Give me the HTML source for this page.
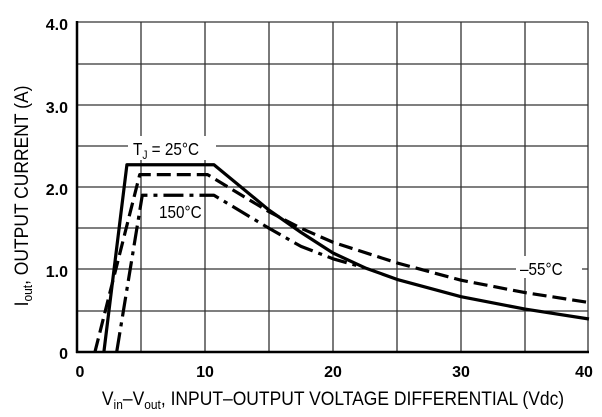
<!DOCTYPE html>
<html><head><style>
body{margin:0;background:#fff;}
svg{display:block;font-family:"Liberation Sans",sans-serif;font-weight:bold;}
</style></head><body>
<svg width="602" height="417" viewBox="0 0 602 417">
<rect width="602" height="417" fill="#fff"/>
<g stroke="#333" stroke-width="1.3">
<line x1="141" y1="22" x2="141" y2="352"/><line x1="205" y1="22" x2="205" y2="352"/>
<line x1="269" y1="22" x2="269" y2="352"/><line x1="333" y1="22" x2="333" y2="352"/>
<line x1="397" y1="22" x2="397" y2="352"/><line x1="461" y1="22" x2="461" y2="352"/>
<line x1="525" y1="22" x2="525" y2="352"/><line x1="588" y1="22" x2="588" y2="352"/>
<line x1="77" y1="22" x2="588" y2="22"/><line x1="77" y1="64" x2="588" y2="64"/>
<line x1="77" y1="105" x2="588" y2="105"/><line x1="77" y1="146" x2="588" y2="146"/>
<line x1="77" y1="187" x2="588" y2="187"/><line x1="77" y1="228" x2="588" y2="228"/>
<line x1="77" y1="269" x2="588" y2="269"/><line x1="77" y1="311" x2="588" y2="311"/>
</g>
<rect x="128" y="136" width="88" height="24" fill="#fff"/>
<rect x="516" y="256" width="66" height="22" fill="#fff"/>
<g stroke="#000" stroke-width="2.5"><line x1="77" y1="21" x2="77" y2="353"/><line x1="76" y1="352" x2="589" y2="352"/></g>
<g transform="translate(77,352) scale(12.8,-82.5)" fill="none" stroke="#000" stroke-width="3.2" stroke-linejoin="round">
<polyline vector-effect="non-scaling-stroke" points="2.1,0 3.9,2.27 10.7,2.27 15,1.72 17.5,1.45 20,1.2 22.5,1.02 25,0.88 30,0.67 35,0.52 40,0.4"/>
<polyline vector-effect="non-scaling-stroke" stroke-dasharray="14,6" points="1.4,0 4.9,2.15 10.2,2.15 15,1.7 17.5,1.5 20,1.33 25,1.08 30,0.87 35,0.72 40,0.6"/>
<polyline vector-effect="non-scaling-stroke" stroke-dasharray="20,6,4,6" points="3.1,0 5.1,1.9 10.7,1.9 15,1.5 17.5,1.28 20,1.13 22.5,1.02"/>
</g>
<g font-size="16" text-anchor="end">
<text x="68" y="30">4.0</text><text x="68" y="113">3.0</text><text x="68" y="195">2.0</text>
<text x="68" y="277">1.0</text><text x="68" y="359">0</text>
</g>
<g font-size="16" text-anchor="middle">
<text x="80" y="377">0</text><text x="205" y="377">10</text><text x="333" y="377">20</text>
<text x="461" y="377">30</text><text x="584" y="377">40</text>
</g>
<text x="133" y="155" font-size="18" font-weight="normal" transform="translate(133,0) scale(0.85,1) translate(-133,0)">T<tspan font-size="12" dy="4">J</tspan><tspan dy="-4"> = 25°C</tspan></text>
<text x="159" y="218" font-size="18" font-weight="normal" transform="translate(159,0) scale(0.85,1) translate(-159,0)">150°C</text>
<text x="520" y="275" font-size="18" font-weight="normal" transform="translate(520,0) scale(0.85,1) translate(-520,0)">–55°C</text>
<text transform="translate(28,196) rotate(-90) scale(0.92,1)" text-anchor="middle" font-size="19" font-weight="normal">I<tspan font-size="13" dy="4">out</tspan><tspan dy="-4">, OUTPUT CURRENT (A)</tspan></text>
<text transform="translate(333,405) scale(0.92,1)" text-anchor="middle" font-size="19" font-weight="normal">V<tspan font-size="13" dy="4">in</tspan><tspan dy="-4">–V</tspan><tspan font-size="13" dy="4">out</tspan><tspan dy="-4">, INPUT–OUTPUT VOLTAGE DIFFERENTIAL (Vdc)</tspan></text>
</svg>
</body></html>
